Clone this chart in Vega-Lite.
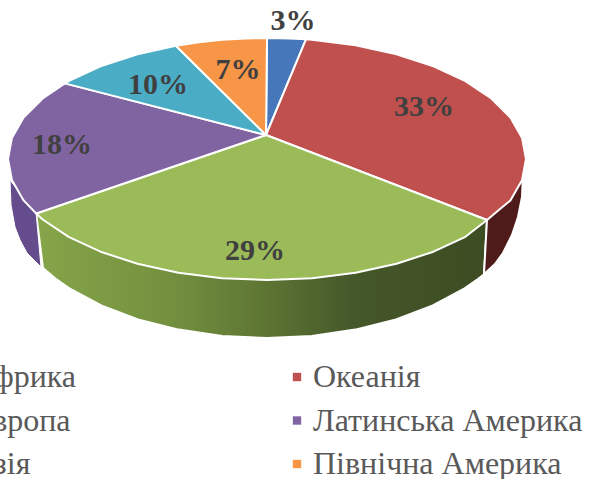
{"$schema":"https://vega.github.io/schema/vega-lite/v6.json","width":589,"height":479,"padding":0,"autosize":{"type":"none"},"background":"white",
"config":{"view":{"stroke":null}},
"datasets":{
"top":[
{"region":"Африка","share":0.03,"i":0,"x":0,"y":0},{"region":"Африка","share":0.03,"i":1,"x":1,"y":97},{"region":"Африка","share":0.03,"i":2,"x":23.6,"y":96.5},{"region":"Африка","share":0.03,"i":3,"x":40,"y":95.7},{"region":"Африка","share":0.03,"i":4,"x":0,"y":0},
{"region":"Океанія","share":0.33,"i":0,"x":0,"y":0},{"region":"Океанія","share":0.33,"i":1,"x":40,"y":95.7},{"region":"Океанія","share":0.33,"i":2,"x":46,"y":95.2},{"region":"Океанія","share":0.33,"i":3,"x":89.6,"y":89.7},{"region":"Океанія","share":0.33,"i":4,"x":130.5,"y":80.8},{"region":"Океанія","share":0.33,"i":5,"x":167.5,"y":68.7},{"region":"Океанія","share":0.33,"i":6,"x":199.4,"y":53.8},{"region":"Океанія","share":0.33,"i":7,"x":225.3,"y":36.5},{"region":"Океанія","share":0.33,"i":8,"x":244.4,"y":17.4},{"region":"Океанія","share":0.33,"i":9,"x":256.1,"y":-3},{"region":"Океанія","share":0.33,"i":10,"x":260,"y":-24},{"region":"Океанія","share":0.33,"i":11,"x":256.1,"y":-45},{"region":"Океанія","share":0.33,"i":12,"x":244.4,"y":-65.4},{"region":"Океанія","share":0.33,"i":13,"x":234,"y":-74},{"region":"Океанія","share":0.33,"i":14,"x":221,"y":-85},{"region":"Океанія","share":0.33,"i":15,"x":0,"y":0},
{"region":"Європа","share":0.29,"i":0,"x":0,"y":0},{"region":"Європа","share":0.29,"i":1,"x":221,"y":-85},{"region":"Європа","share":0.29,"i":2,"x":199.4,"y":-101.8},{"region":"Європа","share":0.29,"i":3,"x":167.5,"y":-116.7},{"region":"Європа","share":0.29,"i":4,"x":130.5,"y":-128.8},{"region":"Європа","share":0.29,"i":5,"x":89.6,"y":-137.7},{"region":"Європа","share":0.29,"i":6,"x":46,"y":-143.2},{"region":"Європа","share":0.29,"i":7,"x":1,"y":-145},{"region":"Європа","share":0.29,"i":8,"x":-44,"y":-143.2},{"region":"Європа","share":0.29,"i":9,"x":-87.6,"y":-137.7},{"region":"Європа","share":0.29,"i":10,"x":-128.5,"y":-128.8},{"region":"Європа","share":0.29,"i":11,"x":-165.5,"y":-116.7},{"region":"Європа","share":0.29,"i":12,"x":-197.4,"y":-101.8},{"region":"Європа","share":0.29,"i":13,"x":-223.3,"y":-84.5},{"region":"Європа","share":0.29,"i":14,"x":-229.8,"y":-78.5},{"region":"Європа","share":0.29,"i":15,"x":0,"y":0},
{"region":"Латинська Америка","share":0.18,"i":0,"x":0,"y":0},{"region":"Латинська Америка","share":0.18,"i":1,"x":-229.8,"y":-78.5},{"region":"Латинська Америка","share":0.18,"i":2,"x":-242.4,"y":-65.4},{"region":"Латинська Америка","share":0.18,"i":3,"x":-254.1,"y":-45},{"region":"Латинська Америка","share":0.18,"i":4,"x":-258,"y":-24},{"region":"Латинська Америка","share":0.18,"i":5,"x":-254.1,"y":-3},{"region":"Латинська Америка","share":0.18,"i":6,"x":-242.4,"y":17.4},{"region":"Латинська Америка","share":0.18,"i":7,"x":-223.3,"y":36.5},{"region":"Латинська Америка","share":0.18,"i":8,"x":-201.1,"y":51.6},{"region":"Латинська Америка","share":0.18,"i":9,"x":0,"y":0},
{"region":"Азія","share":0.10,"i":0,"x":0,"y":0},{"region":"Азія","share":0.10,"i":1,"x":-201.1,"y":51.6},{"region":"Азія","share":0.10,"i":2,"x":-197.4,"y":53.8},{"region":"Азія","share":0.10,"i":3,"x":-165.5,"y":68.7},{"region":"Азія","share":0.10,"i":4,"x":-128.5,"y":80.8},{"region":"Азія","share":0.10,"i":5,"x":-90.1,"y":89.3},{"region":"Азія","share":0.10,"i":6,"x":0,"y":0},
{"region":"Північна Америка","share":0.07,"i":0,"x":0,"y":0},{"region":"Північна Америка","share":0.07,"i":1,"x":-90.1,"y":89.3},{"region":"Північна Америка","share":0.07,"i":2,"x":-67,"y":92.8},{"region":"Північна Америка","share":0.07,"i":3,"x":-44,"y":95.2},{"region":"Північна Америка","share":0.07,"i":4,"x":-20,"y":96.6},{"region":"Північна Америка","share":0.07,"i":5,"x":1,"y":97},{"region":"Північна Америка","share":0.07,"i":6,"x":0,"y":0}
],
"wall":[
{"region":"Європа","i":0,"x":221,"y":-85},{"region":"Європа","i":1,"x":1,"y":-100},{"region":"Європа","i":2,"x":-229.8,"y":-78.5},{"region":"Європа","i":3,"x":-223,"y":-133.1},{"region":"Європа","i":4,"x":-210.3,"y":-143.7},{"region":"Європа","i":5,"x":-196.6,"y":-153.4},{"region":"Європа","i":6,"x":-164.8,"y":-170.5},{"region":"Європа","i":7,"x":-128,"y":-184.4},{"region":"Європа","i":8,"x":-87.2,"y":-194.6},{"region":"Європа","i":9,"x":-43.8,"y":-200.9},{"region":"Європа","i":10,"x":1,"y":-203},{"region":"Європа","i":11,"x":45.8,"y":-200.9},{"region":"Європа","i":12,"x":89.2,"y":-194.6},{"region":"Європа","i":13,"x":130,"y":-184.4},{"region":"Європа","i":14,"x":166.8,"y":-170.5},{"region":"Європа","i":15,"x":198.6,"y":-153.4},{"region":"Європа","i":16,"x":212.3,"y":-143.7},{"region":"Європа","i":17,"x":218,"y":-139.2},{"region":"Європа","i":18,"x":221,"y":-85},
{"region":"Океанія","i":0,"x":221,"y":-85},{"region":"Океанія","i":1,"x":256.7,"y":-45},{"region":"Океанія","i":2,"x":256,"y":-62},{"region":"Океанія","i":3,"x":252,"y":-82},{"region":"Океанія","i":4,"x":246,"y":-100},{"region":"Океанія","i":5,"x":237,"y":-118},{"region":"Океанія","i":6,"x":229,"y":-129},{"region":"Океанія","i":7,"x":218,"y":-139.2},{"region":"Океанія","i":8,"x":221,"y":-85},
{"region":"Латинська Америка","i":0,"x":-229.8,"y":-78.5},{"region":"Латинська Америка","i":1,"x":-256,"y":-45},{"region":"Латинська Америка","i":2,"x":-255,"y":-70},{"region":"Латинська Америка","i":3,"x":-251,"y":-92},{"region":"Латинська Америка","i":4,"x":-246,"y":-105},{"region":"Латинська Америка","i":5,"x":-239,"y":-118},{"region":"Латинська Америка","i":6,"x":-225,"y":-132},{"region":"Латинська Америка","i":7,"x":-229.8,"y":-78.5}
],
"labels":[
{"region":"Африка","share":0.03,"x":27,"y":114},{"region":"Океанія","share":0.33,"x":158,"y":28},{"region":"Європа","share":0.29,"x":-11,"y":-116},{"region":"Латинська Америка","share":0.18,"x":-204,"y":-10},{"region":"Азія","share":0.10,"x":-108,"y":50},{"region":"Північна Америка","share":0.07,"x":-28,"y":65}
]},
"layer":[
{"data":{"name":"wall"},"transform":[{"filter":"datum.region==='Європа'"}],"mark":{"type":"line","stroke":"white","strokeWidth":2,"fill":{"gradient":"linear","x1":0,"x2":1,"y1":0,"y2":0,"stops":[{"offset":0,"color":"#86a549"},{"offset":0.3,"color":"#73903f"},{"offset":0.5,"color":"#5e7633"},{"offset":0.7,"color":"#45582a"},{"offset":1,"color":"#3d4c22"}]}},"encoding":{"x":{"field":"x","type":"quantitative","scale":{"domain":[-266,323],"nice":false,"zero":false},"axis":null},"y":{"field":"y","type":"quantitative","scale":{"domain":[-344,135],"nice":false,"zero":false},"axis":null},"order":{"field":"i"}}},
{"data":{"name":"wall"},"transform":[{"filter":"datum.region==='Океанія'"}],"mark":{"type":"line","stroke":"white","strokeWidth":2,"fill":"#4f1b1a"},"encoding":{"x":{"field":"x","type":"quantitative"},"y":{"field":"y","type":"quantitative"},"order":{"field":"i"}}},
{"data":{"name":"wall"},"transform":[{"filter":"datum.region==='Латинська Америка'"}],"mark":{"type":"line","stroke":"white","strokeWidth":1,"fill":"#654c8c"},"encoding":{"x":{"field":"x","type":"quantitative"},"y":{"field":"y","type":"quantitative"},"order":{"field":"i"}}},
{"data":{"name":"top"},"mark":{"type":"line","stroke":"white","strokeWidth":2,"strokeJoin":"round"},"encoding":{"x":{"field":"x","type":"quantitative"},"y":{"field":"y","type":"quantitative"},"order":{"field":"i"},
"fill":{"field":"region","type":"nominal","scale":{"domain":["Африка","Океанія","Європа","Латинська Америка","Азія","Північна Америка"],"range":["#4677bb","#c0504d","#9bbb59","#8064a2","#4bacc6","#f79646"]},
"legend":{"title":null,"orient":"none","direction":"horizontal","legendX":-61,"legendY":361,"columns":2,"symbolType":"square","symbolSize":70,"symbolStrokeWidth":0,"labelFont":"Liberation Serif","labelFontSize":32,"labelColor":"#595959","labelLimit":400,"rowPadding":11.5,"columnPadding":204,"labelOffset":0}}}},
{"data":{"name":"labels"},"mark":{"type":"text","font":"Liberation Serif","fontWeight":"bold","fontSize":30,"color":"#404040"},"encoding":{"x":{"field":"x","type":"quantitative"},"y":{"field":"y","type":"quantitative"},"text":{"field":"share","type":"quantitative","format":".0%"}}}
]}
